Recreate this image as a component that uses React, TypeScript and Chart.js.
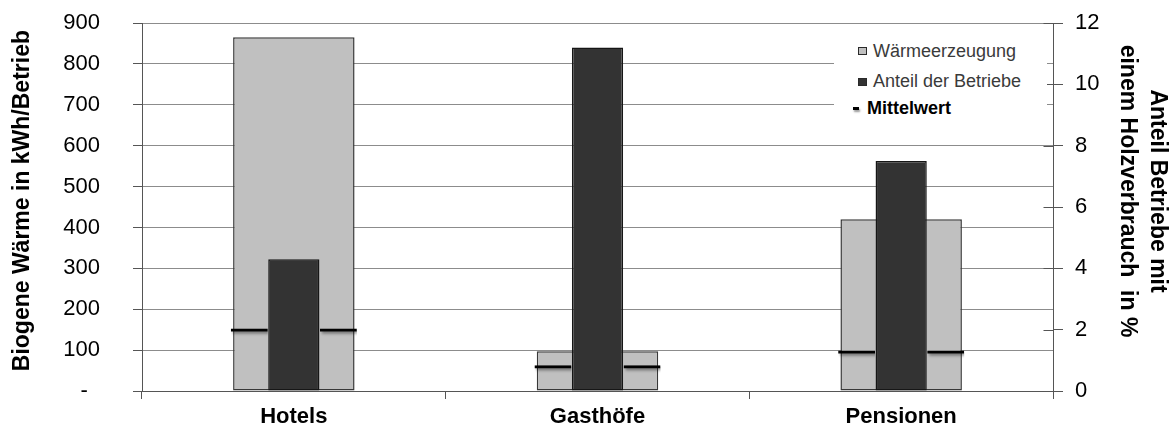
import React, { useEffect, useRef } from 'react';
import { Chart, registerables } from 'chart.js';

Chart.register(...registerables);

const categories = ['Hotels', 'Gasthöfe', 'Pensionen'];
const waermeerzeugung = [865, 97, 420];
const anteilBetriebe = [4.3, 11.2, 7.5];
const mittelwert = [153, 63, 99];
const leftTickLabels = ['-  ', '100', '200', '300', '400', '500', '600', '700', '800', '900'];
const rightTickLabels = ['0', '2', '4', '6', '8', '10', '12'];

const FONT = "'Liberation Sans', Arial, sans-serif";

const meanShadow = {
  id: 'meanShadow',
  beforeDatasetDraw(chart: any, args: any) {
    const ds = chart.data.datasets[args.index];
    if (ds && ds.isMean) {
      const ctx = chart.ctx;
      ctx.save();
      ctx.shadowColor = 'rgba(0,0,0,0.45)';
      ctx.shadowBlur = 3;
      ctx.shadowOffsetX = 2;
      ctx.shadowOffsetY = 2;
    }
  },
  afterDatasetDraw(chart: any, args: any) {
    const ds = chart.data.datasets[args.index];
    if (ds && ds.isMean) chart.ctx.restore();
  },
};

// right-axis tick marks that cross the axis line (inner half)
const crossTicks = {
  id: 'crossTicks',
  afterDraw(chart: any) {
    const s = chart.scales.y1;
    if (!s) return;
    const ctx = chart.ctx;
    const x = Math.round(chart.chartArea.right) + 0.5;
    ctx.save();
    ctx.strokeStyle = '#555';
    ctx.lineWidth = 1;
    ctx.beginPath();
    s.ticks.forEach((t: any) => {
      const y = Math.round(s.getPixelForValue(t.value)) + 0.5;
      ctx.moveTo(x - 10, y);
      ctx.lineTo(x, y);
    });
    ctx.stroke();
    ctx.restore();
  },
};

export default function App() {
  const ref = useRef<HTMLCanvasElement | null>(null);

  useEffect(() => {
    if (!ref.current) return;
    const meanStyle = {
      type: 'bar' as const,
      yAxisID: 'y',
      backgroundColor: 'rgba(0,0,0,0)',
      borderColor: '#000',
      borderWidth: { top: 3, left: 0, right: 0, bottom: 0 },
      categoryPercentage: 0.44,
      barPercentage: 0.83,
      order: 0,
      isMean: true,
    };
    const chart = new Chart(ref.current, {
      type: 'bar',
      data: {
        labels: categories,
        datasets: [
          {
            label: 'Wärmeerzeugung',
            data: waermeerzeugung,
            yAxisID: 'y',
            backgroundColor: '#c0c0c0',
            borderColor: '#383838',
            borderWidth: 1.5,
            borderSkipped: false,
            grouped: false,
            categoryPercentage: 1,
            barPercentage: 0.4,
            order: 5,
          } as any,
          { ...meanStyle, label: 'Mittelwert', data: mittelwert } as any,
          {
            label: 'Anteil der Betriebe',
            data: anteilBetriebe,
            yAxisID: 'y1',
            backgroundColor: '#333333',
            borderColor: '#161616',
            borderWidth: 1.5,
            borderSkipped: false,
            categoryPercentage: 0.44,
            barPercentage: 1.15,
            order: 0,
          } as any,
          { ...meanStyle, label: 'Mittelwert ', data: mittelwert } as any,
        ],
      },
      options: {
        animation: false,
        responsive: false,
        devicePixelRatio: 1,
        layout: { padding: { top: 23, left: 0, right: 0, bottom: 0 } },
        plugins: {
          legend: { display: false },
          tooltip: { enabled: false },
        },
        scales: {
          x: {
            type: 'category',
            offset: true,
            grid: {
              offset: true,
              drawOnChartArea: false,
              tickLength: 8,
              color: '#555',
              tickColor: '#555',
            },
            border: { color: '#555' },
            ticks: {
              font: { family: FONT, size: 22, weight: 'bold' },
              color: '#000',
              padding: 5,
              maxRotation: 0,
            },
            afterFit: (s: any) => {
              s.height = 39;
              s.paddingLeft = 0;
              s.paddingRight = 0;
            },
          },
          y: {
            position: 'left',
            min: 0,
            max: 900,
            ticks: {
              stepSize: 100,
              callback: (_v: any, i: number) => leftTickLabels[i],
              font: { family: FONT, size: 22 },
              color: '#000',
              padding: 33,
            },
            grid: { color: '#8c8c8c', tickColor: '#555', tickLength: 9 },
            border: { color: '#555' },
            title: {
              display: true,
              text: '  Biogene Wärme in kWh/Betrieb',
              font: { family: FONT, size: 23, weight: 'bold' },
              color: '#000',
              padding: { top: 9, bottom: 0 },
            },
            afterFit: (s: any) => {
              s.width = 142;
              s.paddingTop = 0;
              s.paddingBottom = 0;
            },
          },
          y1: {
            position: 'right',
            min: 0,
            max: 12,
            ticks: {
              stepSize: 2,
              callback: (_v: any, i: number) => rightTickLabels[i],
              font: { family: FONT, size: 22 },
              color: '#000',
              padding: 12,
            },
            grid: { drawOnChartArea: false, tickLength: 10, tickColor: '#555', color: '#555' },
            border: { color: '#555' },
            title: {
              display: true,
              text: ['Anteil Betriebe mit     ', 'einem Holzverbrauch  in %     '],
              font: { family: FONT, size: 23, weight: 'bold', lineHeight: 1.3 },
              color: '#000',
              padding: { top: 2, bottom: 0 },
            },
            afterFit: (s: any) => {
              s.width = 121;
              s.paddingTop = 0;
              s.paddingBottom = 0;
            },
          },
        },
      } as any,
      plugins: [meanShadow, crossTicks],
    });
    return () => chart.destroy();
  }, []);

  const legendText: React.CSSProperties = {
    position: 'absolute',
    fontFamily: FONT,
    fontSize: 18,
    lineHeight: '20px',
    whiteSpace: 'nowrap',
    color: '#3a3a3a',
  };
  const square = (bg: string, top: number): React.CSSProperties => ({
    position: 'absolute',
    left: 858,
    top,
    width: 9,
    height: 8,
    boxSizing: 'border-box',
    background: bg,
    border: '1px solid #2a2a2a',
  });

  return (
    <div style={{ position: 'fixed', left: 0, top: 0, width: 1174, height: 430, background: '#fff' }}>
      <canvas ref={ref} width={1174} height={430} style={{ display: 'block' }} />
      <div style={{ position: 'absolute', left: 834, top: 32, width: 213, height: 90, background: '#fff' }} />
      <div style={square('#c0c0c0', 46.5)} />
      <div style={{ ...legendText, left: 873, top: 40.5 }}>Wärmeerzeugung</div>
      <div style={square('#333333', 77.5)} />
      <div style={{ ...legendText, left: 873, top: 70.5 }}>Anteil der Betriebe</div>
      <div
        style={{
          position: 'absolute',
          left: 853,
          top: 106.5,
          width: 6,
          height: 3,
          background: '#000',
          boxShadow: '1px 2px 2px rgba(0,0,0,0.4)',
        }}
      />
      <div style={{ ...legendText, left: 867, top: 97.8, fontWeight: 'bold', color: '#000' }}>Mittelwert</div>
    </div>
  );
}
